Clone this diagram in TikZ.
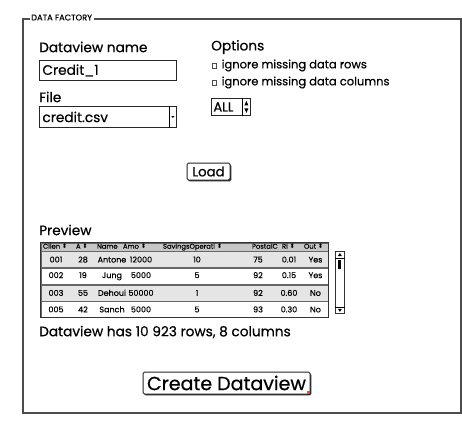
\documentclass[tikz,border=0pt]{standalone}
\usepackage{fontspec}
\setmainfont{Poppins}[FakeBold=0.5]
\newfontfamily\symfont{DejaVu Sans}
\usetikzlibrary{positioning,shadows}

\newcommand{\fs}[1]{\fontsize{#1}{#1}\selectfont}
\newcommand{\srt}{{\symfont\fs{6.5}⬍}}
\newcommand{\hc}[2]{\makebox[#1pt][l]{#2}}
\newcommand{\dc}[2]{\makebox[#1pt]{#2}}

\begin{document}
\begin{tikzpicture}[x=1pt, y=-1pt,
  node distance=0pt,
  frame/.style={draw=black!70, line width=1.2pt},
  lbl/.style={anchor=west, inner sep=0pt, font=\fs{13.7}},
  field/.style={draw=black!85, line width=0.9pt, anchor=north west, inner sep=3pt, text width=131pt, align=left, font=\fs{13.7}},
  btn/.style={draw=black!85, line width=1pt, rounded corners=1.5pt, fill=white, inner sep=2pt, drop shadow={shadow xshift=1.3pt, shadow yshift=-1.3pt, opacity=1, fill=black!85}},
  chk/.style={draw=black!70, line width=0.5pt, minimum size=4.5pt, inner sep=0pt},
  opt/.style={inner sep=0pt, font=\fs{11.5}},
  trow/.style={draw=black!60, line width=0.6pt, minimum width=287pt, minimum height=16pt, inner sep=0pt, font=\fs{8}},
  hdrrow/.style={fill=black!22, minimum height=8pt, font=\fs{6.8}}
]
  \fill[white] (0,0) rectangle (462,421);
  \useasboundingbox (0,0) rectangle (462,421);

  \draw[frame] (23,19) rectangle (461,413);
  \node[fill=white, inner sep=1.5pt, anchor=west, font=\fs{8.3}] (title) at (29.5,17.5) {DATA FACTORY};

  \node[lbl] (namelbl) at (39,47) {Dataview name};
  \node[field, minimum height=20pt] (namebox) at (39,60) {Credit\_1};
  \node[lbl] (filelbl) at (39,97) {File};
  \node[field, minimum height=21pt] (filebox) at (39,106) {credit.csv};
  \draw[line width=0.8pt] ([xshift=-8pt]filebox.north east) -- ([xshift=-8pt]filebox.south east);
  \fill ([xshift=-5.5pt,yshift=0.8pt]filebox.east) -- ([xshift=-2.5pt,yshift=0.8pt]filebox.east) -- ([xshift=-4pt,yshift=-1pt]filebox.east) -- cycle;

  \node[lbl] (optlbl) at (211,47) {Options};
  \node[chk] (cb1) at (214,65.5) {};
  \node[opt, right=5pt of cb1] (opt1) {ignore missing data rows};
  \node[chk] (cb2) at (214,82.5) {};
  \node[opt, right=5pt of cb2] (opt2) {ignore missing data columns};
  \node[draw=black!85, line width=0.9pt, anchor=north west, minimum width=39pt, minimum height=17pt,
        inner sep=2pt, text width=35pt, align=left, font=\fs{13}] (allbox) at (211,98) {ALL};
  \draw[line width=0.7pt] ([xshift=-9pt]allbox.north east) -- ([xshift=-9pt]allbox.south east);
  \fill ([xshift=-4.5pt,yshift=6pt]allbox.east) -- ([xshift=-6.5pt,yshift=1.5pt]allbox.east) -- ([xshift=-2.5pt,yshift=1.5pt]allbox.east) -- cycle;
  \fill ([xshift=-4.5pt,yshift=-6pt]allbox.east) -- ([xshift=-6.5pt,yshift=-1.5pt]allbox.east) -- ([xshift=-2.5pt,yshift=-1.5pt]allbox.east) -- cycle;

  \node[btn, font=\fs{13.3}, minimum width=43pt, minimum height=17pt] (load) at (208.5,171.5) {Load};

  \node[lbl] (prevlbl) at (39,230) {Preview};
  \node[trow, hdrrow] (hdr) at (184.5,247) {\hspace{2pt}\hc{33}{Clien \srt}\hc{21}{A \srt}\hc{26}{Name}\hc{40}{Amo \srt}\hc{89}{SavingsOperati \srt}\hc{30}{PostalC}\hc{22}{Ri \srt}\hc{24}{Out \srt}};
  \node[trow, fill=black!10, below=of hdr] (r1) {\dc{30}{001}\dc{24}{28}\dc{34}{Antone}\dc{24}{12000}\dc{88}{10}\dc{34}{75}\dc{28}{0.01}\dc{25}{Yes}};
  \node[trow, fill=white, below=of r1] (r2) {\dc{30}{002}\dc{24}{19}\dc{34}{Jung}\dc{24}{5000}\dc{88}{5}\dc{34}{92}\dc{28}{0.15}\dc{25}{Yes}};
  \node[trow, fill=black!10, below=of r2] (r3) {\dc{30}{003}\dc{24}{55}\dc{34}{Dehoui}\dc{24}{50000}\dc{88}{1}\dc{34}{92}\dc{28}{0.60}\dc{25}{No}};
  \node[trow, fill=white, below=of r3] (r4) {\dc{30}{005}\dc{24}{42}\dc{34}{Sanch}\dc{24}{5000}\dc{88}{5}\dc{34}{93}\dc{28}{0.30}\dc{25}{No}};
  \draw[line width=1pt, draw=black!80] (hdr.north west) rectangle (r4.south east);

  \node[draw=black!80, line width=0.8pt, anchor=north west, minimum width=9pt, minimum height=62pt, inner sep=0pt] (scroll) at (335,251) {};
  \draw[line width=0.6pt] ([yshift=-7pt]scroll.north west) -- ([yshift=-7pt]scroll.north east);
  \draw[line width=0.6pt] ([yshift=7pt]scroll.south west) -- ([yshift=7pt]scroll.south east);
  \fill ([yshift=-2pt]scroll.north) -- ([xshift=-2pt,yshift=-5pt]scroll.north) -- ([xshift=2pt,yshift=-5pt]scroll.north) -- cycle;
  \fill ([yshift=2pt]scroll.south) -- ([xshift=-2pt,yshift=5pt]scroll.south) -- ([xshift=2pt,yshift=5pt]scroll.south) -- cycle;
  \fill ([xshift=-1.5pt,yshift=-8.5pt]scroll.north) rectangle ([xshift=1.5pt,yshift=-18pt]scroll.north);

  \node[lbl] (rowcount) at (39,332) {Dataview has 10 923 rows, 8 columns};

  \node[btn, font=\fs{19}, minimum width=167pt, minimum height=22pt] (create) at (226.5,383) {Create Dataview};
  \fill[red!75] ([xshift=-3.5pt,yshift=0.6pt]create.south east) rectangle ([xshift=-0.6pt,yshift=3.5pt]create.south east);
\end{tikzpicture}
\end{document}
